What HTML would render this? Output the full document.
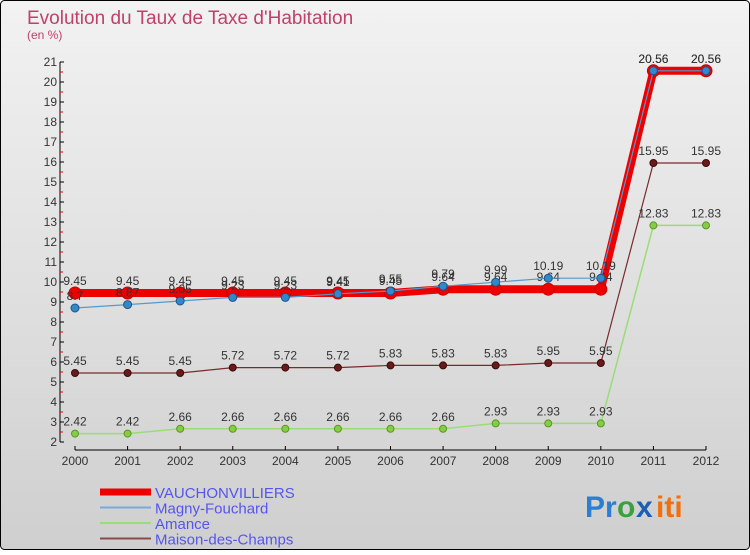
<!DOCTYPE html>
<html><head><meta charset="utf-8"><style>
body{margin:0;width:750px;height:550px;overflow:hidden;font-family:"Liberation Sans",sans-serif}
</style></head><body>
<svg width="750" height="550" xmlns="http://www.w3.org/2000/svg">
<defs><linearGradient id="bg" x1="0" y1="0" x2="0" y2="1"><stop offset="0" stop-color="#f2f2f2"/><stop offset="1" stop-color="#cfcfcf"/></linearGradient></defs>
<rect x="0.5" y="0.5" width="749" height="549" rx="4" fill="url(#bg)" stroke="#000"/>
<text x="27" y="24" font-size="19" fill="#c0406a">Evolution du Taux de Taxe d'Habitation</text>
<text x="27" y="39" font-size="12" fill="#c0406a">(en %)</text>
<g id="axes"></g>
<g id="series"></g>
<g id="legend"></g>
<g font-size="30" font-weight="bold">
<text x="585" y="517" fill="#2a7fd0">Pr</text><text x="617" y="517" fill="#3aa040">o</text><text x="636" y="517" fill="#1a5fb0">x</text><text x="656" y="517" fill="#f07010">iti</text>
</g>
</svg>
<script>
const years=[2000,2001,2002,2003,2004,2005,2006,2007,2008,2009,2010,2011,2012];
const vauch=[9.45,9.45,9.45,9.45,9.45,9.45,9.45,9.64,9.64,9.64,9.64,20.56,20.56];
const magny=[8.7,8.87,9.05,9.23,9.23,9.41,9.55,9.79,9.99,10.19,10.19,20.56,20.56];
const amance=[2.42,2.42,2.66,2.66,2.66,2.66,2.66,2.66,2.93,2.93,2.93,12.83,12.83];
const maison=[5.45,5.45,5.45,5.72,5.72,5.72,5.83,5.83,5.83,5.95,5.95,15.95,15.95];
const yTicks=[2,3,4,5,6,7,8,9,10,11,12,13,14,15,16,17,18,19,20,21];
const NS="http://www.w3.org/2000/svg";
const X=i=>75+i*(706-75)/12;
const Y=v=>442-(v-2)*20;
function mk(p,t,a){const e=document.createElementNS(NS,t);for(const k in a)e.setAttribute(k,a[k]);p.appendChild(e);return e;}
const ax=document.getElementById('axes');
let l=mk(ax,'line',{x1:60,y1:Y(21),x2:60,y2:442,stroke:'#000'});


yTicks.forEach(v=>{
 mk(ax,'line',{x1:60,y1:Y(v),x2:64,y2:Y(v),stroke:'#000'});
 if(v<21)mk(ax,'line',{x1:60,y1:Y(v+0.5),x2:63,y2:Y(v+0.5),stroke:'#e00'});
 const t=mk(ax,'text',{x:57,y:Y(v)+4,'font-size':12,'text-anchor':'end',fill:'#333'});t.textContent=v;
 
 
});
l=mk(ax,'line',{x1:75,y1:450,x2:706,y2:450,stroke:'#000'});


years.forEach((y,i)=>{
 mk(ax,'line',{x1:X(i),y1:446,x2:X(i),y2:450,stroke:'#000'});
 const t=mk(ax,'text',{x:X(i),y:465,'font-size':12,'text-anchor':'middle',fill:'#333'});t.textContent=y;
 
 
});
const sg=document.getElementById('series');
function series(name,data,color,w,r,dot,dotStroke){
 const g=mk(sg,'g',{});
 
 
 mk(g,'polyline',{points:data.map((v,i)=>X(i)+','+Y(v)).join(' '),fill:'none',stroke:color,'stroke-width':w});
 data.forEach((v,i)=>{
  const c=mk(g,'circle',{cx:X(i),cy:Y(v),r:r,fill:dot,stroke:dotStroke,'stroke-width':1});
  
  
  const t=mk(g,'text',{x:X(i),y:Y(v)-8,'font-size':12,'text-anchor':'middle',fill:'#333'});
  t.textContent=v;
 });
}
series('maison',maison,'#7a2a2a',1.2,3.5,'#6a1a1a','#3a0a0a');
series('amance',amance,'#99dd77',1.5,3.5,'#88cc44','#559922');
series('vauchonvilliers',vauch,'#ee0000',8,6,'#ee0000','#cc0000');
series('magny',magny,'#5599cc',1.2,4,'#3388cc','#1a5588');
const lg=document.getElementById('legend');
[['VAUCHONVILLIERS','#ee0000',7],['Magny-Fouchard','#77aadd',2],['Amance','#99dd77',2],['Maison-des-Champs','#8a4a4a',2]].forEach((d,i)=>{
 const y=492+i*15.5;
 const g=mk(lg,'g',{});
 
 
 mk(g,'line',{x1:100,y1:y,x2:151,y2:y,stroke:d[1],'stroke-width':d[2]});
 const t=mk(g,'text',{x:155,y:y+6,'font-size':15,fill:'#5555ee'});t.textContent=d[0];
});
</script>
</body></html>
